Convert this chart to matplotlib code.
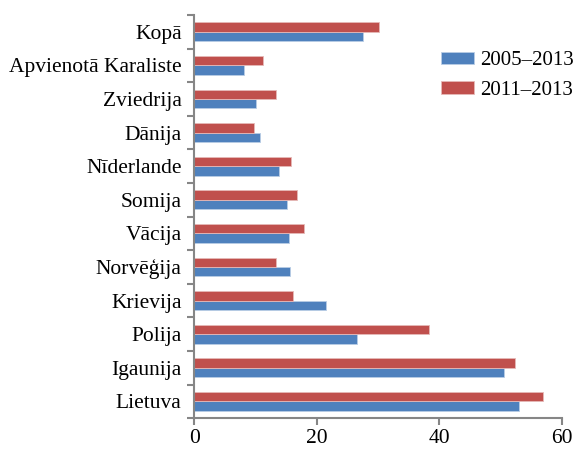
import matplotlib
matplotlib.use("Agg")
import matplotlib.pyplot as plt
import numpy as np

categories = ["Lietuva", "Igaunija", "Polija", "Krievija", "Norvēģija", "Vācija",
              "Somija", "Nīderlande", "Dānija", "Zviedrija", "Apvienotā Karaliste", "Kopā"]
series_2005_2013 = [53.1, 50.6, 26.6, 21.6, 15.7, 15.5, 15.1, 13.9, 10.7, 10.1, 8.2, 27.5]
series_2011_2013 = [56.9, 52.4, 38.4, 16.2, 13.4, 18.0, 16.8, 15.9, 9.8, 13.3, 11.2, 30.2]
xticks = [0, 20, 40, 60]

plt.rcParams['font.family'] = ['Liberation Serif', 'DejaVu Serif']

fig = plt.figure(figsize=(5.76, 4.53), dpi=100)
ax = fig.add_axes([0.337, 0.077, 0.638, 0.890])

y = np.arange(len(categories))
h = 0.28
ax.barh(y - h/2, series_2005_2013, height=h, color='#4F81BD', edgecolor='#B9CDE5',
        linewidth=0.6, label='2005–2013')
ax.barh(y + h/2, series_2011_2013, height=h, color='#C0504D', edgecolor='#E6B9B8',
        linewidth=0.6, label='2011–2013')

fs = 15.5
ax.set_xlim(0, 60)
ax.set_ylim(-0.5, len(categories) - 0.5)
ax.set_xticks(xticks)
ax.set_xticklabels([str(t) for t in xticks], fontsize=fs)
ax.set_yticks(y)
ax.set_yticklabels(categories, fontsize=fs)
ax.set_yticks(np.arange(-0.5, len(categories), 1.0), minor=True)
ax.tick_params(axis='y', which='major', length=0, pad=9)
ax.tick_params(axis='y', which='minor', length=5, width=1.5, color='#868686', direction='out')
ax.tick_params(axis='x', which='major', length=5, width=1.5, color='#868686', direction='out', pad=3)

for s in ['top', 'right']:
    ax.spines[s].set_visible(False)
for s in ['left', 'bottom']:
    ax.spines[s].set_color('#868686')
    ax.spines[s].set_linewidth(1.5)

ax.legend(loc='upper left', bbox_to_anchor=(0.766, 0.887), bbox_transform=fig.transFigure,
          frameon=False, fontsize=15, handlelength=1.58, handleheight=0.55,
          handletextpad=0.3, labelspacing=0.5, borderaxespad=0, borderpad=0)

fig.savefig("out.png", dpi=100)
